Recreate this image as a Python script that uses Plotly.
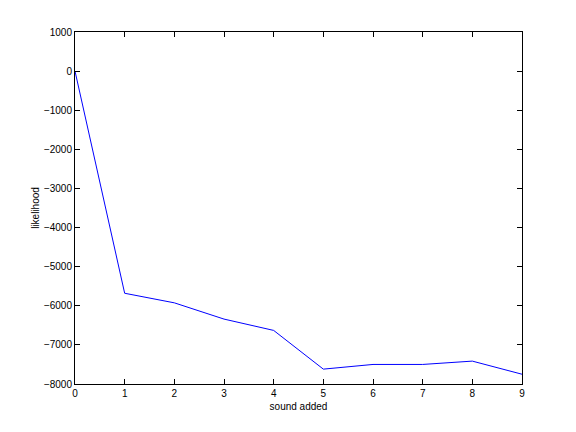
import plotly.graph_objects as go

sounds_added = [0, 1, 2, 3, 4, 5, 6, 7, 8, 9]
likelihood = [0, -5680, -5925, -6340, -6630, -7620, -7500, -7500, -7415, -7750]

fig = go.Figure()
fig.add_trace(go.Scatter(x=sounds_added, y=likelihood, mode="lines",
                         line=dict(color="#0000ff", width=1), showlegend=False))

font = dict(family="Liberation Sans, Arial", size=10, color="black")
axis_common = dict(showgrid=False, zeroline=False, showline=True, linecolor="black",
                   linewidth=1, mirror="allticks", ticks="inside", ticklen=5,
                   tickcolor="black", tickfont=font)

fig.update_xaxes(range=[0, 9], dtick=1, tick0=0,
                 title=dict(text="sound added", font=font, standoff=4),
                 **axis_common)
fig.update_yaxes(range=[-8000, 1000], dtick=1000, tick0=0,
                 title=dict(text="likelihood", font=font, standoff=2),
                 **axis_common)

# page body adds an 8px offset; margins compensate so the axes box lands at 75..522 x 32..384
fig.update_layout(width=576, height=432, margin=dict(l=67, r=62, t=24, b=56),
                  paper_bgcolor="white", plot_bgcolor="white")

fig.write_html("out.html")
